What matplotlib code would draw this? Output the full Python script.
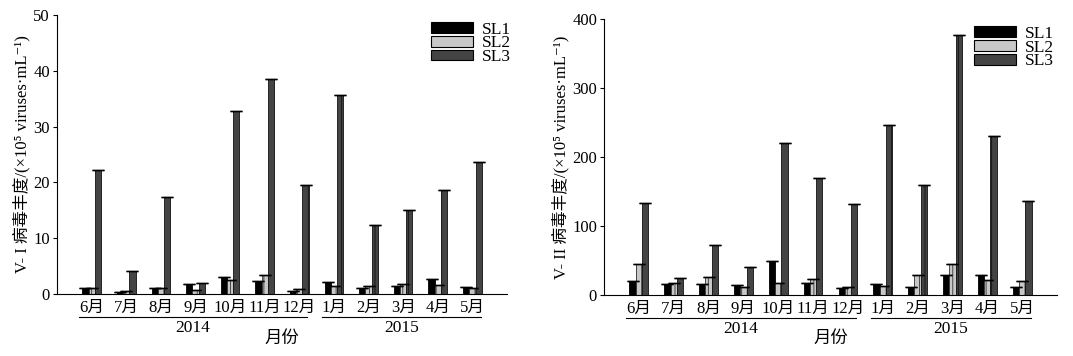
import matplotlib
matplotlib.use("Agg")
import matplotlib.pyplot as plt
import matplotlib.transforms as mtransforms
from matplotlib.patches import Patch
import numpy as np

months = ["6月", "7月", "8月", "9月", "10月", "11月", "12月", "1月", "2月", "3月", "4月", "5月"]
years = ["2014", "2015"]
series = ["SL1", "SL2", "SL3"]

v1_sl1 = [1.0, 0.3, 1.0, 1.8, 3.0, 2.4, 0.6, 2.2, 1.1, 1.4, 2.6, 1.2]
v1_sl2 = [1.0, 0.6, 1.0, 0.7, 2.5, 3.4, 0.9, 1.5, 1.5, 1.8, 1.7, 1.0]
v1_sl3 = [22.2, 4.2, 17.3, 1.9, 32.8, 38.6, 19.6, 35.6, 12.3, 15.0, 18.6, 23.7]

v2_sl1 = [20, 16.5, 16.5, 15, 49.4, 18, 10.7, 16.5, 11, 29.5, 28.6, 12]
v2_sl2 = [45, 17.4, 26.6, 12, 18, 23, 12, 13, 29.5, 45, 21.8, 21]
v2_sl3 = [134, 24.7, 72, 40, 221, 170, 132, 247, 159, 377, 231, 135.6]

SERIF = ["Liberation Serif", "Noto Sans CJK SC", "DejaVu Serif"]
plt.rcParams["font.family"] = SERIF
plt.rcParams["hatch.linewidth"] = 0.6

fig = plt.figure(figsize=(10.73, 3.56), dpi=100)
ax1 = fig.add_axes([57/1073, 1-294/356, (507-57)/1073, (294-15)/356])
ax2 = fig.add_axes([604/1073, 1-295/356, (1057-604)/1073, (295-19)/356])

styles = [
    dict(color="#000000", edgecolor="#000000", hatch=None),
    dict(color="#c8c8c8", edgecolor="#333333", hatch="|||"),
    dict(color="#444444", edgecolor="#111111", hatch="|"),
]
legend_face = ["#000000", "#c8c8c8", "#444444"]

def draw(ax, data, ymax, ylabel, yticks, leg_anchor):
    x = np.arange(len(months))
    w = 0.18
    for i, (vals, st) in enumerate(zip(data, styles)):
        xs = x + (i - 1) * w
        ax.bar(xs, vals, width=w, color=st["color"], edgecolor=st["edgecolor"],
               hatch=st["hatch"], linewidth=0.6, zorder=2)
        ax.errorbar(xs, vals, yerr=np.zeros(len(vals)), fmt="none", ecolor="black",
                    elinewidth=0.8, capsize=4.0, capthick=1.0, zorder=3)
    ax.set_xlim(-1.0, 12.0)
    ax.set_ylim(0, ymax)
    ax.set_yticks(yticks)
    ax.spines["top"].set_visible(False)
    ax.spines["right"].set_visible(False)
    ax.spines["left"].set_linewidth(0.8)
    ax.spines["bottom"].set_linewidth(0.8)
    ax.tick_params(axis="y", direction="out", length=3, width=0.8, labelsize=12, pad=2)
    ax.tick_params(axis="x", length=0, labelsize=12, pad=4)
    ax.set_xticks(x)
    ax.set_xticklabels(months)
    ax.set_ylabel(ylabel, fontsize=12, labelpad=2)
    tr = mtransforms.blended_transform_factory(ax.transData, ax.transAxes)
    for (a, b), yr in zip([(-0.37, 6.22), (6.66, 11.24)], years):
        ax.plot([a, b], [-0.082, -0.082], transform=tr, color="black", lw=0.8, clip_on=False)
        ax.text((a + b) / 2, -0.122, yr, transform=tr, ha="center", va="center", fontsize=12.5)
    ax.text(0.5, -0.16, "月份", transform=ax.transAxes, ha="center", va="center", fontsize=12.5)
    handles = [Patch(facecolor=c, edgecolor="black", linewidth=0.8) for c in legend_face]
    ax.legend(handles, series, loc="upper right", bbox_to_anchor=leg_anchor, frameon=False,
              fontsize=12.5, handlelength=2.4, handleheight=0.55, labelspacing=-0.12,
              handletextpad=0.5, borderpad=0.2)

draw(ax1, [v1_sl1, v1_sl2, v1_sl3], 50, "V- I 病毒丰度/(×10⁵ viruses·mL⁻¹)",
     [0, 10, 20, 30, 40, 50], (1.035, 1.02))
draw(ax2, [v2_sl1, v2_sl2, v2_sl3], 400, "V- II 病毒丰度/(×10⁵ viruses·mL⁻¹)",
     [0, 100, 200, 300, 400], (1.02, 1.02))

fig.savefig("out.png", dpi=100)
